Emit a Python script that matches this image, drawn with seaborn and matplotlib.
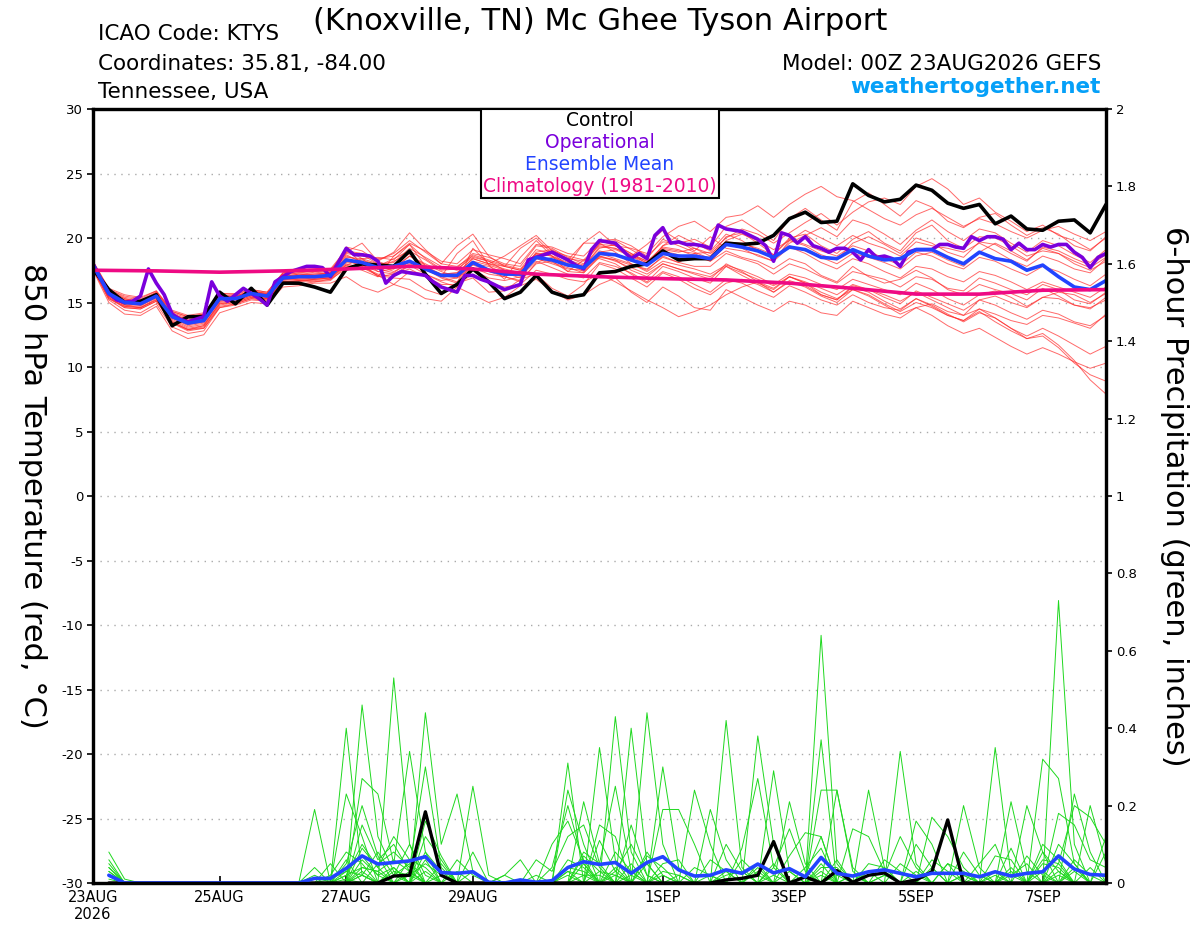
import numpy as np
import pandas as pd
import matplotlib
matplotlib.use('Agg')
import matplotlib.pyplot as plt
from matplotlib.patches import Rectangle
import seaborn as sns

sns.set_theme(style='white')
plt.rcParams['font.family'] = ['DejaVu Sans']
plt.rcParams['axes.unicode_minus'] = False
plt.rcParams['text.color'] = 'black'
plt.rcParams['axes.labelcolor'] = 'black'

# time axes: 6-hourly ensemble, 3-hourly operational, daily climatology
start = pd.Timestamp('2026-08-23 00:00')
t6 = pd.date_range(start, periods=65, freq='6h')
t3 = pd.date_range(start, periods=129, freq='3h')
tday = pd.date_range(start, periods=17, freq='D')
tprec = t6[1:]

tick_dates = ['2026-08-23', '2026-08-25', '2026-08-27', '2026-08-29',
              '2026-09-01', '2026-09-03', '2026-09-05', '2026-09-07']
tick_labels = ['23AUG\n2026', '25AUG', '27AUG', '29AUG', '1SEP', '3SEP', '5SEP', '7SEP']

# 850 hPa temperature (C)
control_t = [17.6, 16.0, 15.0, 15.1, 15.6, 13.2, 13.9, 13.9, 15.8, 14.9, 16.1, 14.8, 16.5, 16.5, 16.2, 15.8,
             17.6, 18.0, 17.9, 17.8, 19.0, 17.2, 15.7, 16.4, 17.6, 16.6, 15.3, 15.8, 17.1, 15.8, 15.4, 15.6,
             17.3, 17.4, 17.8, 18.0, 19.0, 18.3, 18.4, 18.4, 19.6, 19.5, 19.6, 20.2, 21.5, 22.0, 21.2, 21.3,
             24.2, 23.3, 22.8, 23.0, 24.1, 23.7, 22.7, 22.3, 22.6, 21.1, 21.7, 20.7, 20.6, 21.3, 21.4, 20.4,
             22.6]
mean_t = [17.9, 15.7, 15.0, 14.9, 15.5, 13.9, 13.4, 13.6, 15.3, 15.3, 15.7, 15.5, 16.9, 17.0, 17.0, 17.1,
          18.3, 18.1, 17.7, 17.8, 18.2, 17.6, 17.1, 17.1, 18.1, 17.5, 17.2, 17.2, 18.5, 18.3, 17.9, 17.7,
          18.8, 18.7, 18.3, 17.9, 18.8, 18.6, 18.6, 18.4, 19.5, 19.3, 19.0, 18.5, 19.3, 19.1, 18.5, 18.4,
          19.1, 18.6, 18.3, 18.4, 19.1, 19.1, 18.5, 18.0, 18.9, 18.4, 18.2, 17.5, 17.9, 17.0, 16.2, 16.0,
          16.7]
oper_t = [18.0, 16.8, 15.7, 15.2, 15.0, 15.1, 15.5, 17.6, 16.5, 15.6, 14.1, 13.7, 13.5, 13.7, 13.9, 16.6,
          15.5, 15.1, 15.6, 16.1, 15.7, 15.3, 14.8, 16.6, 17.0, 17.4, 17.6, 17.8, 17.8, 17.7, 17.0, 18.1,
          19.2, 18.7, 18.7, 18.6, 18.2, 16.5, 17.1, 17.4, 17.3, 17.2, 17.1, 16.6, 16.2, 16.0, 15.8, 17.1,
          17.1, 16.8, 16.6, 16.3, 16.0, 16.2, 16.4, 18.3, 18.5, 18.7, 18.9, 18.6, 18.3, 17.9, 17.6, 19.1,
          19.8, 19.7, 19.6, 19.0, 18.4, 18.8, 18.4, 20.2, 20.8, 19.6, 19.7, 19.5, 19.5, 19.4, 19.2, 21.0,
          20.7, 20.6, 20.5, 20.2, 19.9, 19.4, 18.2, 20.4, 20.2, 19.6, 20.1, 19.4, 19.2, 18.9, 19.2, 19.2,
          18.9, 18.3, 19.1, 18.5, 18.6, 18.4, 17.8, 18.9, 19.1, 19.1, 19.1, 19.5, 19.5, 19.3, 19.2, 20.1,
          19.8, 20.1, 20.1, 19.9, 19.1, 19.6, 19.1, 19.1, 19.5, 19.3, 19.5, 19.5, 18.9, 18.5, 17.7, 18.5,
          18.8]
clim_t = [17.5, 17.45, 17.35, 17.45, 17.6, 17.8, 17.6, 17.2, 17.0, 16.85, 16.75, 16.5, 16.1, 15.65,
          15.65, 15.95, 16.0]

mem01 = [17.8, 15.9, 15.3, 15.0, 15.8, 14.2, 13.8, 14.0, 15.6, 15.4, 15.9, 15.6, 17.2, 17.5, 17.3, 17.4,
         18.9, 18.7, 18.0, 17.6, 18.6, 17.9, 17.0, 16.6, 18.0, 17.8, 17.3, 16.9, 18.6, 19.0, 18.2, 17.8,
         19.2, 19.5, 18.8, 18.0, 19.4, 19.8, 19.2, 18.6, 20.1, 20.4, 19.6, 18.7, 20.0, 20.3, 19.4, 18.8,
         19.9, 20.5, 19.6, 19.0, 20.4, 21.0, 19.8, 19.2, 20.1, 20.0, 19.4, 18.6, 19.0, 18.8, 18.0, 17.5, 18.2]
mem02 = [18.0, 15.5, 14.8, 14.6, 15.2, 13.6, 13.0, 13.2, 15.0, 15.1, 15.5, 15.4, 16.8, 16.8, 16.9, 17.0,
         18.9, 19.6, 18.2, 18.9, 20.4, 19.1, 18.0, 19.4, 20.3, 18.6, 17.8, 19.2, 20.0, 18.8, 17.9, 19.6,
         19.6, 18.9, 18.0, 17.5, 18.6, 18.1, 18.8, 18.2, 19.0, 18.5, 18.2, 17.6, 18.4, 18.0, 17.1, 16.6,
         17.8, 17.0, 16.5, 16.8, 17.5, 16.9, 16.0, 15.6, 16.4, 16.0, 15.7, 15.2, 16.1, 15.5, 14.8, 14.6, 15.2]
mem03 = [17.6, 15.2, 14.4, 14.2, 14.9, 13.1, 12.6, 12.8, 14.6, 14.8, 15.2, 15.1, 16.5, 16.7, 16.6, 16.8,
         17.6, 17.8, 17.1, 16.4, 17.4, 17.2, 16.6, 16.2, 17.5, 16.9, 16.7, 17.0, 18.2, 17.7, 17.2, 16.9,
         18.1, 17.8, 17.3, 16.6, 17.8, 17.4, 16.9, 16.5, 17.8, 17.1, 16.5, 16.0, 17.0, 16.5, 15.6, 15.2,
         16.2, 15.8, 15.1, 14.5, 15.3, 14.7, 14.0, 13.6, 14.3, 13.5, 12.8, 12.2, 12.6, 11.7, 10.5, 9.0, 7.9]
mem04 = [18.2, 16.1, 15.6, 15.4, 15.9, 14.4, 14.0, 14.2, 15.7, 15.6, 16.0, 15.8, 17.3, 17.4, 17.5, 17.6,
         19.1, 18.4, 18.5, 18.3, 19.5, 18.4, 17.6, 17.7, 18.8, 18.5, 18.0, 17.8, 19.4, 19.2, 18.5, 18.0,
         19.8, 19.9, 19.4, 18.6, 19.7, 19.6, 19.9, 19.3, 20.9, 21.4, 20.6, 19.8, 21.5, 22.3, 21.4, 20.6,
         22.8, 23.5, 22.6, 21.7, 22.9, 22.4, 21.3, 20.8, 21.6, 21.9, 21.0, 20.2, 20.8, 20.3, 19.4, 19.0, 20.1]
mem05 = [17.9, 15.8, 15.2, 15.1, 15.6, 14.1, 13.6, 13.8, 15.4, 15.5, 15.8, 15.7, 17.0, 17.2, 17.1, 17.3,
         18.6, 18.2, 17.8, 18.2, 18.8, 17.7, 17.2, 17.3, 18.4, 18.0, 17.6, 17.3, 18.9, 19.1, 18.4, 18.2,
         19.4, 19.2, 18.6, 18.1, 19.2, 19.0, 18.8, 18.9, 20.0, 20.7, 20.3, 19.6, 20.4, 21.2, 21.9, 21.0,
         22.0, 22.8, 23.1, 22.6, 24.0, 24.6, 23.8, 22.6, 23.1, 22.0, 21.3, 20.5, 21.0, 20.2, 19.8, 19.1, 20.0]
mem06 = [17.7, 15.4, 14.7, 14.6, 15.3, 13.5, 12.9, 13.1, 14.8, 15.0, 15.4, 15.3, 16.6, 16.6, 16.8, 16.9,
         17.9, 18.4, 17.4, 17.2, 17.9, 17.5, 17.1, 16.9, 17.7, 17.2, 17.0, 16.7, 18.0, 18.2, 17.4, 17.3,
         18.5, 18.3, 17.9, 17.6, 18.5, 18.1, 17.8, 17.8, 18.8, 18.4, 18.0, 17.2, 18.0, 17.6, 17.0, 16.5,
         17.4, 17.1, 16.8, 16.2, 17.0, 16.8, 16.1, 15.9, 16.9, 16.5, 16.0, 15.6, 16.4, 16.0, 15.2, 14.9, 15.8]
mem07 = [17.5, 15.0, 14.1, 14.0, 14.7, 12.8, 12.2, 12.5, 14.2, 14.6, 15.0, 14.9, 16.2, 16.3, 16.5, 16.5,
         17.0, 16.2, 15.8, 16.4, 16.0, 15.3, 15.1, 16.2, 15.6, 15.0, 15.4, 16.3, 16.8, 15.9, 15.2, 15.6,
         16.4, 16.9, 15.8, 15.0, 16.2, 15.5, 14.6, 14.4, 16.0, 15.4, 14.8, 14.3, 15.1, 14.8, 14.2, 14.0,
         15.1, 14.6, 14.1, 13.8, 14.6, 14.9, 14.3, 14.0, 15.2, 15.5, 15.0, 14.6, 15.4, 15.3, 14.8, 14.5, 15.4]
mem08 = [18.1, 15.9, 15.3, 15.1, 15.7, 14.1, 13.7, 13.9, 15.5, 15.4, 15.9, 15.6, 17.1, 17.3, 17.2, 17.3,
         19.3, 19.0, 18.2, 17.7, 18.6, 18.0, 17.4, 17.0, 18.2, 17.4, 17.0, 16.6, 18.1, 18.5, 18.0, 17.4,
         18.9, 19.1, 18.6, 17.9, 19.4, 20.2, 19.6, 19.0, 20.3, 19.8, 19.0, 18.4, 19.6, 20.2, 20.8, 20.1,
         21.4, 21.0, 20.3, 19.5, 20.6, 21.4, 20.5, 19.8, 20.7, 20.4, 19.6, 18.9, 19.8, 19.4, 18.7, 18.1, 19.1]
mem09 = [17.8, 15.6, 14.9, 14.8, 15.4, 13.8, 13.2, 13.4, 15.1, 15.2, 15.6, 15.4, 16.8, 16.9, 17.0, 17.0,
         19.2, 18.0, 17.0, 18.6, 19.5, 17.8, 17.0, 18.8, 19.8, 17.9, 16.8, 18.5, 19.8, 18.6, 17.4, 18.3,
         18.4, 18.0, 17.2, 16.5, 17.4, 17.0, 16.4, 15.8, 16.8, 16.5, 15.9, 15.4, 16.3, 15.8, 15.2, 14.8,
         15.6, 15.0, 14.6, 14.4, 15.3, 14.8, 14.1, 13.5, 14.2, 13.8, 13.0, 12.4, 13.0, 12.4, 11.7, 11.0, 11.6]
mem10 = [17.6, 15.3, 14.6, 14.5, 15.1, 13.4, 12.8, 13.0, 14.7, 14.9, 15.3, 15.2, 16.5, 16.4, 16.6, 16.7,
         17.8, 17.9, 17.6, 17.9, 18.8, 17.6, 16.9, 16.5, 19.2, 18.0, 18.6, 19.4, 20.2, 19.0, 18.3, 19.6,
         20.5, 19.4, 18.6, 19.5, 20.6, 19.8, 19.0, 20.1, 19.2, 19.0, 18.7, 18.2, 19.3, 18.8, 18.1, 17.6,
         18.4, 18.0, 17.4, 16.9, 17.8, 17.6, 17.0, 16.6, 17.4, 17.1, 16.6, 16.0, 16.6, 16.2, 15.8, 15.4, 16.2]
mem11 = [18.0, 15.7, 15.1, 14.9, 15.6, 14.0, 13.5, 13.7, 15.2, 15.3, 15.7, 15.5, 16.9, 17.1, 16.9, 17.1,
         18.2, 17.9, 17.4, 17.6, 18.1, 17.7, 17.0, 17.0, 18.0, 17.6, 17.1, 17.4, 18.5, 18.1, 17.7, 17.3,
         18.6, 18.3, 17.5, 17.0, 18.0, 17.6, 17.2, 16.8, 18.0, 17.4, 16.6, 15.8, 16.6, 16.2, 15.5, 15.0,
         16.0, 15.5, 14.8, 14.1, 14.6, 14.0, 13.2, 12.6, 13.0, 12.3, 11.6, 11.0, 11.5, 11.0, 10.4, 9.9, 10.3]
mem12 = [17.9, 15.6, 14.9, 14.8, 15.5, 13.8, 13.3, 13.5, 15.2, 15.3, 15.6, 15.5, 16.9, 17.0, 17.0, 17.1,
         18.4, 18.0, 17.8, 18.4, 19.0, 18.3, 17.5, 17.6, 18.5, 18.2, 17.8, 17.5, 18.8, 18.6, 17.9, 17.6,
         18.8, 18.4, 18.0, 17.4, 18.2, 17.9, 17.6, 17.2, 17.9, 17.5, 17.0, 16.4, 17.2, 16.9, 16.4, 16.0,
         16.8, 16.4, 16.0, 15.6, 16.5, 16.0, 15.3, 14.8, 15.6, 15.9, 15.4, 14.7, 15.4, 15.8, 15.6, 15.0, 15.7]
mem13 = [18.1, 16.0, 15.4, 15.2, 15.8, 14.3, 13.9, 14.1, 15.6, 15.5, 15.9, 15.7, 17.2, 17.3, 17.4, 17.5,
         18.8, 18.6, 18.4, 18.6, 19.6, 19.0, 18.2, 18.0, 19.1, 18.7, 18.4, 18.0, 19.5, 19.3, 18.8, 18.6,
         19.8, 19.4, 19.2, 18.8, 20.1, 20.9, 21.3, 20.5, 21.6, 21.8, 22.5, 21.6, 22.6, 23.4, 24.0, 23.2,
         22.9, 22.2, 21.5, 21.0, 21.8, 22.3, 21.6, 20.9, 21.5, 21.1, 20.5, 20.0, 20.6, 20.9, 20.3, 19.8, 20.5]
mem14 = [17.7, 15.5, 14.8, 14.7, 15.4, 13.7, 13.1, 13.3, 14.9, 15.1, 15.5, 15.3, 16.7, 16.8, 16.8, 16.9,
         18.0, 17.7, 17.1, 16.9, 16.8, 16.0, 15.6, 16.5, 16.9, 15.8, 15.9, 16.8, 17.2, 16.1, 15.5, 16.4,
         18.0, 17.6, 16.9, 16.2, 17.3, 16.8, 16.1, 15.6, 16.5, 16.8, 16.4, 15.8, 16.7, 16.3, 15.6, 15.2,
         16.3, 16.0, 15.4, 14.9, 15.9, 15.4, 14.9, 14.4, 15.2, 14.8, 14.2, 13.7, 14.4, 14.1, 13.5, 13.2, 14.0]
mem15 = [18.0, 15.8, 15.1, 15.0, 15.7, 14.0, 13.6, 13.8, 15.4, 15.4, 15.8, 15.6, 17.0, 17.2, 17.1, 17.2,
         18.5, 18.4, 18.0, 18.1, 19.2, 18.5, 17.8, 17.5, 18.7, 18.3, 17.9, 17.6, 19.1, 18.8, 18.3, 17.9,
         19.6, 19.8, 19.1, 18.4, 19.9, 19.4, 18.9, 18.4, 19.8, 20.3, 19.8, 19.1, 19.8, 19.4, 18.7, 18.3,
         19.6, 20.1, 19.5, 18.8, 20.0, 19.6, 18.9, 18.5, 19.7, 19.5, 18.8, 18.2, 19.3, 19.0, 18.4, 17.9, 18.7]
mem16 = [17.8, 15.4, 14.6, 14.5, 15.1, 13.4, 12.9, 13.0, 14.6, 14.9, 15.3, 15.2, 16.6, 16.7, 16.7, 16.8,
         17.9, 17.5, 17.0, 17.2, 17.6, 17.0, 16.4, 16.4, 17.2, 16.5, 16.2, 16.4, 17.5, 17.2, 16.8, 16.6,
         17.2, 16.6, 15.9, 15.2, 14.6, 13.9, 14.3, 14.8, 15.6, 16.2, 16.6, 16.1, 17.0, 16.5, 15.8, 15.3,
         16.0, 15.6, 14.9, 14.3, 15.0, 14.6, 14.0, 13.6, 14.5, 14.1, 13.6, 13.3, 14.0, 13.8, 13.4, 13.0, 14.1]
mem17 = [18.2, 16.0, 15.5, 15.3, 15.9, 14.3, 13.9, 14.1, 15.7, 15.7, 16.0, 15.8, 17.3, 17.4, 17.4, 17.5,
         19.0, 18.8, 18.3, 18.8, 19.8, 18.9, 18.0, 17.8, 18.6, 18.2, 17.5, 17.2, 18.7, 19.0, 18.6, 18.3,
         19.5, 19.4, 18.8, 18.2, 19.0, 18.7, 18.4, 18.5, 19.5, 19.2, 18.6, 18.2, 19.8, 20.6, 20.0, 19.4,
         20.2, 19.6, 19.2, 18.6, 19.7, 19.4, 19.2, 18.9, 19.6, 19.0, 18.3, 17.8, 18.6, 18.2, 17.6, 17.3, 18.4]
mem18 = [17.9, 15.6, 15.0, 14.8, 15.4, 13.8, 13.3, 13.5, 15.1, 15.2, 15.6, 15.4, 16.8, 16.9, 16.9, 17.0,
         18.3, 17.8, 17.2, 17.0, 17.9, 17.2, 16.7, 16.9, 17.9, 17.5, 17.3, 17.1, 18.4, 18.0, 17.6, 17.5,
         18.6, 18.2, 17.7, 17.2, 18.0, 17.6, 17.3, 17.0, 17.8, 17.3, 16.8, 16.3, 17.0, 16.6, 16.1, 15.6,
         16.4, 16.0, 15.6, 15.1, 15.8, 15.2, 14.6, 14.0, 14.5, 13.8, 13.0, 12.2, 12.4, 11.5, 10.3, 9.4, 8.9]
mem19 = [17.6, 15.3, 14.7, 14.6, 15.2, 13.5, 12.9, 13.2, 14.9, 15.0, 15.4, 15.3, 16.6, 16.7, 16.8, 16.9,
         18.1, 18.3, 17.9, 17.4, 18.0, 17.5, 17.2, 17.2, 18.2, 17.9, 17.5, 17.2, 18.6, 18.3, 17.9, 17.7,
         19.0, 18.7, 18.2, 17.9, 19.1, 18.9, 19.2, 18.8, 19.7, 19.6, 19.2, 18.7, 19.9, 19.5, 19.0, 18.6,
         19.4, 19.0, 18.4, 17.9, 18.9, 18.6, 18.0, 17.6, 18.5, 18.2, 17.6, 17.1, 17.8, 17.4, 16.8, 16.3, 17.2]
mem20 = [18.0, 15.9, 15.2, 15.1, 15.7, 14.1, 13.6, 13.8, 15.4, 15.5, 15.9, 15.7, 17.1, 17.1, 17.2, 17.3,
         18.7, 18.1, 17.6, 17.3, 18.2, 17.8, 17.2, 17.3, 18.4, 18.0, 17.8, 17.5, 18.8, 18.6, 18.1, 17.8,
         19.3, 19.2, 18.7, 18.2, 19.3, 19.1, 18.6, 18.2, 19.4, 19.6, 19.1, 18.5, 19.4, 19.0, 18.5, 18.0,
         18.8, 18.5, 18.1, 17.6, 18.6, 18.9, 18.3, 17.8, 18.9, 19.6, 19.0, 18.3, 19.2, 18.8, 18.2, 17.7, 18.5]
temp_members = [mem01, mem02, mem03, mem04, mem05, mem06, mem07, mem08, mem09, mem10,
                mem11, mem12, mem13, mem14, mem15, mem16, mem17, mem18, mem19, mem20]

# 6-hour precipitation (inches), steps 1..64
control_p = [0, 0, 0, 0, 0, 0, 0, 0, 0, 0, 0, 0, 0, 0, 0, 0,
             0, 0, 0.018, 0.02, 0.184, 0.02, 0, 0, 0, 0, 0, 0, 0, 0, 0, 0,
             0, 0, 0, 0, 0, 0, 0, 0.008, 0.012, 0.02, 0.107, 0, 0.016, 0, 0.032, 0.002,
             0.02, 0.026, 0, 0.008, 0.029, 0.163, 0, 0, 0, 0, 0, 0, 0, 0, 0, 0]
mean_p = [0.02, 0, 0, 0, 0, 0, 0, 0, 0, 0, 0, 0, 0, 0.012, 0.012, 0.038,
          0.07, 0.049, 0.053, 0.057, 0.068, 0.027, 0.025, 0.029, 0.002, 0, 0.008, 0.002, 0.006, 0.04, 0.055, 0.048,
          0.053, 0.025, 0.053, 0.068, 0.034, 0.018, 0.02, 0.034, 0.025, 0.049, 0.026, 0.037, 0.016, 0.066, 0.025, 0.018,
          0.029, 0.034, 0.025, 0.016, 0.025, 0.025, 0.025, 0.016, 0.029, 0.018, 0.025, 0.029, 0.07, 0.036, 0.022, 0.02]

# members: step -> amount (all other steps are dry)
pm01 = {1: 0.04, 14: 0.19, 16: 0.40, 17: 0.02, 21: 0.06, 30: 0.31, 33: 0.04, 46: 0.64, 47: 0.05,
        61: 0.73, 62: 0.10}
pm02 = {1: 0.02, 15: 0.05, 17: 0.46, 18: 0.12, 19: 0.03, 24: 0.03, 31: 0.21, 32: 0.05, 35: 0.44,
        36: 0.10, 42: 0.05, 46: 0.37, 55: 0.02, 60: 0.32, 61: 0.27, 62: 0.05}
pm03 = {1: 0.08, 2: 0.01, 16: 0.23, 17: 0.12, 19: 0.53, 20: 0.10, 21: 0.02, 32: 0.35, 33: 0.06,
        40: 0.42, 41: 0.04, 51: 0.34, 52: 0.05, 57: 0.35, 58: 0.02}
pm04 = {1: 0.03, 17: 0.27, 18: 0.23, 19: 0.05, 20: 0.34, 21: 0.08, 30: 0.24, 31: 0.10, 34: 0.40,
        35: 0.05, 43: 0.29, 44: 0.03, 49: 0.24, 50: 0.04, 58: 0.21, 59: 0.03, 63: 0.20, 64: 0.05}
pm05 = {1: 0.05, 14: 0.04, 16: 0.06, 21: 0.44, 22: 0.10, 23: 0.23, 24: 0.03, 33: 0.43, 34: 0.08,
        36: 0.30, 37: 0.04, 42: 0.38, 43: 0.10, 47: 0.24, 48: 0.03, 55: 0.20, 56: 0.04, 62: 0.23, 63: 0.08}
pm06 = {1: 0.02, 18: 0.05, 19: 0.08, 20: 0.04, 21: 0.30, 22: 0.04, 24: 0.25, 25: 0.02, 31: 0.08,
        32: 0.05, 33: 0.25, 34: 0.03, 39: 0.19, 40: 0.06, 44: 0.21, 45: 0.05, 53: 0.17, 54: 0.12,
        55: 0.04, 59: 0.20, 60: 0.08, 64: 0.12}
pm07 = {16: 0.02, 17: 0.10, 18: 0.04, 19: 0.12, 20: 0.06, 28: 0.06, 29: 0.03, 30: 0.12, 31: 0.15,
        32: 0.04, 36: 0.19, 37: 0.19, 38: 0.10, 46: 0.24, 47: 0.24, 48: 0.04, 57: 0.07, 58: 0.06,
        61: 0.18, 62: 0.15, 63: 0.06, 64: 0.04}
pm08 = {1: 0.06, 15: 0.02, 16: 0.08, 17: 0.05, 19: 0.04, 21: 0.08, 22: 0.03, 26: 0.02, 27: 0.06,
        30: 0.02, 32: 0.15, 33: 0.12, 35: 0.05, 38: 0.24, 39: 0.10, 45: 0.02, 46: 0.12, 49: 0.05,
        50: 0.04, 52: 0.16, 53: 0.10, 58: 0.09, 60: 0.06, 61: 0.05}
pm09 = {1: 0.01, 17: 0.02, 18: 0.08, 19: 0.02, 20: 0.10, 23: 0.06, 24: 0.02, 33: 0.03, 34: 0.10,
        35: 0.02, 41: 0.09, 42: 0.27, 43: 0.04, 48: 0.14, 49: 0.12, 50: 0.03, 56: 0.05, 57: 0.10,
        61: 0.05, 62: 0.20, 63: 0.17, 64: 0.10}
pm10 = {16: 0.05, 17: 0.20, 18: 0.07, 20: 0.02, 22: 0.05, 29: 0.04, 30: 0.20, 31: 0.05, 35: 0.08,
        36: 0.02, 40: 0.10, 41: 0.03, 44: 0.07, 45: 0.13, 46: 0.12, 52: 0.10, 53: 0.04, 60: 0.08, 61: 0.03}
pm11 = {15: 0.01, 16: 0.03, 17: 0.07, 18: 0.02, 21: 0.12, 22: 0.06, 31: 0.07, 32: 0.03, 34: 0.05,
        37: 0.02, 39: 0.06, 40: 0.03, 43: 0.02, 47: 0.06, 50: 0.06, 51: 0.03, 58: 0.02, 59: 0.05,
        62: 0.06, 63: 0.02}
pm12 = {1: 0.03, 17: 0.04, 18: 0.03, 19: 0.06, 20: 0.03, 30: 0.06, 31: 0.04, 33: 0.08, 34: 0.03,
        41: 0.06, 42: 0.02, 46: 0.04, 47: 0.04, 54: 0.05, 55: 0.03, 61: 0.10, 62: 0.05}
pm13 = {14: 0.02, 17: 0.15, 18: 0.06, 19: 0.10, 20: 0.03, 24: 0.08, 32: 0.11, 33: 0.03, 36: 0.05,
        37: 0.06, 43: 0.04, 44: 0.14, 45: 0.03, 50: 0.02, 51: 0.12, 52: 0.04, 58: 0.04, 60: 0.05, 61: 0.04}
pm14 = {16: 0.01, 19: 0.03, 20: 0.02, 21: 0.05, 22: 0.02, 26: 0.02, 30: 0.03, 31: 0.02, 34: 0.02,
        38: 0.04, 39: 0.02, 42: 0.03, 46: 0.03, 53: 0.06, 54: 0.03, 57: 0.03, 62: 0.04}
pm15 = {1: 0.04, 17: 0.09, 18: 0.04, 21: 0.16, 22: 0.07, 29: 0.10, 30: 0.16, 31: 0.06, 35: 0.07,
        36: 0.04, 45: 0.04, 46: 0.09, 48: 0.02, 55: 0.08, 56: 0.02, 60: 0.10, 61: 0.06}
pm16 = {17: 0.03, 19: 0.02, 20: 0.05, 23: 0.03, 31: 0.05, 34: 0.15, 35: 0.02, 40: 0.03, 43: 0.05,
        47: 0.02, 51: 0.05, 52: 0.02, 59: 0.07, 60: 0.02, 63: 0.04}
pm17 = {16: 0.02, 17: 0.04, 18: 0.03, 20: 0.06, 21: 0.04, 28: 0.02, 30: 0.04, 31: 0.03, 36: 0.03,
        37: 0.02, 42: 0.04, 45: 0.02, 49: 0.03, 53: 0.04, 55: 0.02, 58: 0.03, 61: 0.03, 64: 0.08}
pm18 = {17: 0.06, 18: 0.02, 19: 0.04, 21: 0.03, 32: 0.03, 33: 0.02, 40: 0.02, 41: 0.03, 46: 0.05,
        54: 0.05, 62: 0.03}
pm19 = {1: 0.02, 16: 0.03, 17: 0.02, 20: 0.03, 31: 0.02, 32: 0.02, 36: 0.02, 44: 0.03, 48: 0.02,
        52: 0.03, 57: 0.02, 61: 0.02}
pm20 = {17: 0.02, 19: 0.02, 22: 0.02, 30: 0.03, 33: 0.02, 39: 0.02, 46: 0.02, 50: 0.02, 56: 0.02,
        60: 0.03}
precip_members = [pm01, pm02, pm03, pm04, pm05, pm06, pm07, pm08, pm09, pm10,
                  pm11, pm12, pm13, pm14, pm15, pm16, pm17, pm18, pm19, pm20]

# long tables for seaborn
temp_df = pd.concat([pd.DataFrame({'time': t6, 'temp': m, 'member': k})
                     for k, m in enumerate(temp_members)], ignore_index=True)
prec_rows = []
for k, d in enumerate(precip_members):
    vals = np.zeros(len(tprec))
    for step, amt in d.items():
        vals[step - 1] = amt
    prec_rows.append(pd.DataFrame({'time': tprec, 'precip': vals, 'member': k}))
prec_df = pd.concat(prec_rows, ignore_index=True)

C_RED = '#ff2a2a'
C_GREEN = '#1fd81f'
C_OPER = '#7a00dc'
C_MEAN = '#2244ff'
C_CLIM = '#ee0a84'

fig = plt.figure(figsize=(12, 9.27), dpi=100)
ax = fig.add_axes([93 / 1200, 1 - 883 / 927, 1013 / 1200, 774 / 927])
ax2 = ax.twinx()

for v in range(-25, 30, 5):
    ax.axhline(v, color='#aaaaaa', lw=1.0, ls=(0, (1, 4)), zorder=0)

sns.lineplot(data=temp_df, x='time', y='temp', units='member', estimator=None,
             color=C_RED, lw=0.7, alpha=0.7, ax=ax, legend=False)
sns.lineplot(x=t6, y=control_t, color='black', lw=2.6, ax=ax)
sns.lineplot(x=t3, y=oper_t, color=C_OPER, lw=2.6, ax=ax)
sns.lineplot(x=t6, y=mean_t, color=C_MEAN, lw=2.6, ax=ax)
sns.lineplot(x=tday, y=clim_t, color=C_CLIM, lw=2.6, ax=ax)

sns.lineplot(data=prec_df, x='time', y='precip', units='member', estimator=None,
             color=C_GREEN, lw=0.7, ax=ax2, legend=False)
sns.lineplot(x=tprec, y=control_p, color='black', lw=2.4, ax=ax2)
sns.lineplot(x=tprec, y=mean_p, color=C_MEAN, lw=2.6, ax=ax2)

ax.set_xlim(t6[0], t6[-1])
ax.set_ylim(-30, 30)
ax2.set_ylim(0, 2)
ax.set_yticks(range(-30, 31, 5))
ax.set_yticklabels([str(v) for v in range(-30, 31, 5)])
ax2.set_yticks(np.arange(0, 2.01, 0.2))
ax2.set_yticklabels(['%g' % round(v, 1) for v in np.arange(0, 2.01, 0.2)])
ax.set_xticks(pd.to_datetime(tick_dates))
ax.set_xticklabels(tick_labels)
ax.set_xlabel('')
ax.set_ylabel('')
ax2.set_ylabel('')
ax.grid(False)
ax2.grid(False)

ax.tick_params(axis='x', bottom=True, direction='in', length=5, width=1.2,
               labelsize=10.5, pad=5, colors='black')
ax.tick_params(axis='y', left=True, direction='out', length=4, width=1.2,
               labelsize=9.5, pad=3, colors='black')
ax2.tick_params(axis='y', right=True, direction='out', length=4, width=1.2,
                labelsize=9.5, pad=3, colors='black')
for a in (ax, ax2):
    for s in a.spines.values():
        s.set_linewidth(2.3)
        s.set_color('black')

fig.text(32 / 1200, 1 - 496 / 927, '850 hPa Temperature (red, °C)', rotation=270,
         ha='center', va='center', fontsize=22, color='black')
fig.text(1175 / 1200, 1 - 496 / 927, '6-hour Precipitation (green, inches)', rotation=270,
         ha='center', va='center', fontsize=22, color='black')

fig.text(0.5, 1 - 22 / 927, '(Knoxville, TN) Mc Ghee Tyson Airport', ha='center', va='center',
         fontsize=22, color='black')
fig.text(98 / 1200, 1 - 34 / 927, 'ICAO Code: KTYS', ha='left', va='center', fontsize=15.5,
         color='black')
fig.text(98 / 1200, 1 - 64 / 927, 'Coordinates: 35.81, -84.00', ha='left', va='center',
         fontsize=15.5, color='black')
fig.text(98 / 1200, 1 - 92 / 927, 'Tennessee, USA', ha='left', va='center', fontsize=15.5,
         color='black')
fig.text(1101 / 1200, 1 - 64 / 927, 'Model: 00Z 23AUG2026 GEFS', ha='right', va='center',
         fontsize=15.5, color='black')
fig.text(1101 / 1200, 1 - 87 / 927, 'weathertogether.net', ha='right', va='center', fontsize=15.5,
         fontweight='bold', color='#05a0f8')

# legend box with coloured entries
box = Rectangle((481 / 1200, 1 - 198 / 927), 238 / 1200, 89 / 927, transform=fig.transFigure,
                facecolor='white', edgecolor='black', lw=1.5, zorder=5)
fig.patches.append(box)
for txt, col, yy in [('Control', 'black', 121), ('Operational', C_OPER, 142),
                     ('Ensemble Mean', C_MEAN, 164), ('Climatology (1981-2010)', C_CLIM, 186)]:
    fig.text(600 / 1200, 1 - yy / 927, txt, color=col, ha='center', va='center',
             fontsize=13.5, zorder=6)

fig.savefig('out.png', dpi=100)
